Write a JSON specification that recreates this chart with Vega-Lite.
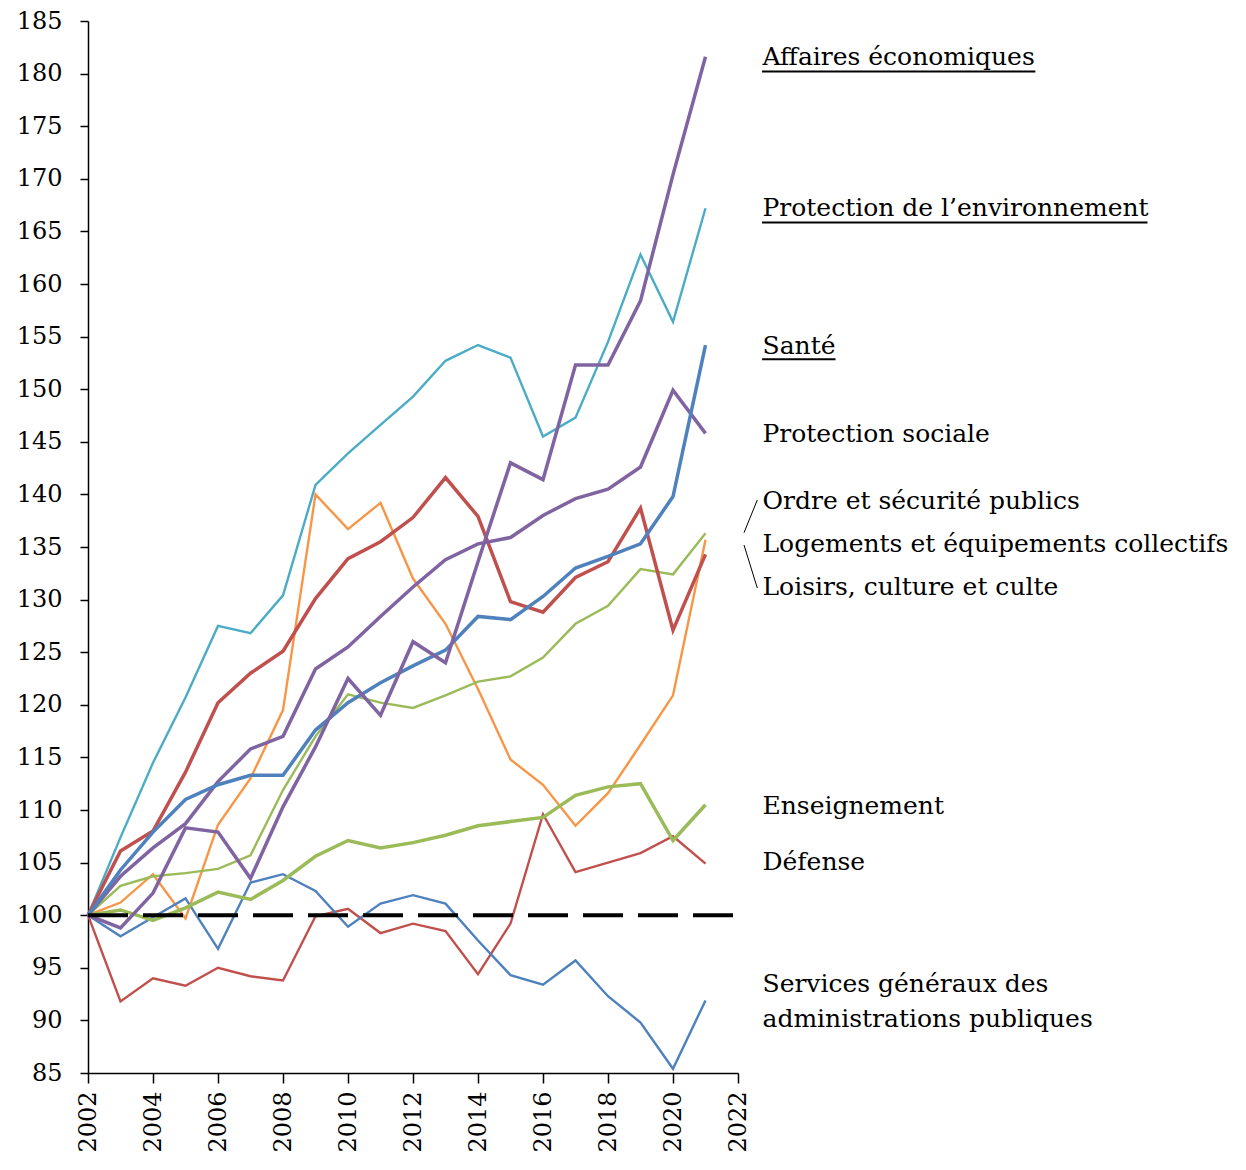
{
  "$schema": "https://vega.github.io/schema/vega-lite/v6.json",
  "width": 650,
  "height": 1052,
  "autosize": {"type": "none"},
  "padding": {"left": 88, "top": 21, "right": 508, "bottom": 97},
  "background": "white",
  "config": {
    "view": {"stroke": null},
    "font": "DejaVu Serif",
    "axis": {"labelFont": "DejaVu Serif", "labelFontSize": 24, "labelColor": "black", "domainColor": "black", "domainWidth": 1.5, "tickColor": "black", "tickWidth": 1.5, "grid": false, "title": null}
  },
  "datasets": {
    "wide": [
      {"year": 2002, "aff": 100, "env": 100, "sante": 100, "soc": 100, "ordre": 100, "log": 100, "loisirs": 100, "ens": 100, "def": 100, "serv": 100},
      {"year": 2003, "aff": 98.8, "env": 107.4, "sante": 104.3, "soc": 103.7, "ordre": 102.8, "log": 101.2, "loisirs": 106.1, "ens": 100.5, "def": 91.8, "serv": 98},
      {"year": 2004, "aff": 102.1, "env": 114.5, "sante": 107.9, "soc": 106.4, "ordre": 103.7, "log": 103.9, "loisirs": 108, "ens": 99.5, "def": 94, "serv": 99.8},
      {"year": 2005, "aff": 108.3, "env": 120.7, "sante": 111, "soc": 108.7, "ordre": 104, "log": 99.7, "loisirs": 113.6, "ens": 100.7, "def": 93.3, "serv": 101.6},
      {"year": 2006, "aff": 107.9, "env": 127.5, "sante": 112.4, "soc": 112.7, "ordre": 104.4, "log": 108.6, "loisirs": 120.2, "ens": 102.2, "def": 95, "serv": 96.8},
      {"year": 2007, "aff": 103.5, "env": 126.8, "sante": 113.3, "soc": 115.8, "ordre": 105.7, "log": 113, "loisirs": 123, "ens": 101.5, "def": 94.2, "serv": 103.1},
      {"year": 2008, "aff": 110.3, "env": 130.4, "sante": 113.3, "soc": 117, "ordre": 111.9, "log": 119.5, "loisirs": 125.1, "ens": 103.3, "def": 93.8, "serv": 103.9},
      {"year": 2009, "aff": 116, "env": 140.9, "sante": 117.6, "soc": 123.4, "ordre": 117, "log": 140, "loisirs": 130.1, "ens": 105.6, "def": 99.9, "serv": 102.3},
      {"year": 2010, "aff": 122.5, "env": 143.9, "sante": 120.2, "soc": 125.5, "ordre": 121, "log": 136.7, "loisirs": 133.9, "ens": 107.1, "def": 100.6, "serv": 98.9},
      {"year": 2011, "aff": 119, "env": 146.6, "sante": 122.1, "soc": 128.4, "ordre": 120.2, "log": 139.2, "loisirs": 135.5, "ens": 106.4, "def": 98.3, "serv": 101.1},
      {"year": 2012, "aff": 126, "env": 149.3, "sante": 123.7, "soc": 131.2, "ordre": 119.7, "log": 132, "loisirs": 137.8, "ens": 106.9, "def": 99.2, "serv": 101.9},
      {"year": 2013, "aff": 124, "env": 152.7, "sante": 125.2, "soc": 133.8, "ordre": 120.9, "log": 127.7, "loisirs": 141.6, "ens": 107.6, "def": 98.5, "serv": 101.1},
      {"year": 2014, "aff": 133.6, "env": 154.2, "sante": 128.4, "soc": 135.3, "ordre": 122.2, "log": 121.5, "loisirs": 137.9, "ens": 108.5, "def": 94.4, "serv": 97.6},
      {"year": 2015, "aff": 143, "env": 153, "sante": 128.1, "soc": 135.9, "ordre": 122.7, "log": 114.8, "loisirs": 129.8, "ens": 108.9, "def": 99.2, "serv": 94.3},
      {"year": 2016, "aff": 141.4, "env": 145.5, "sante": 130.3, "soc": 138, "ordre": 124.5, "log": 112.4, "loisirs": 128.8, "ens": 109.3, "def": 109.6, "serv": 93.4},
      {"year": 2017, "aff": 152.3, "env": 147.3, "sante": 133, "soc": 139.6, "ordre": 127.7, "log": 108.5, "loisirs": 132.1, "ens": 111.4, "def": 104.1, "serv": 95.7},
      {"year": 2018, "aff": 152.3, "env": 154.5, "sante": 134.1, "soc": 140.5, "ordre": 129.4, "log": 111.6, "loisirs": 133.6, "ens": 112.2, "def": 105, "serv": 92.3},
      {"year": 2019, "aff": 158.4, "env": 162.8, "sante": 135.3, "soc": 142.6, "ordre": 132.9, "log": 116.2, "loisirs": 138.7, "ens": 112.5, "def": 105.9, "serv": 89.8},
      {"year": 2020, "aff": 170.4, "env": 156.4, "sante": 139.8, "soc": 149.9, "ordre": 132.4, "log": 120.9, "loisirs": 127.1, "ens": 107.1, "def": 107.5, "serv": 85.4},
      {"year": 2021, "aff": 181.6, "env": 167.2, "sante": 154.2, "soc": 145.8, "ordre": 136.3, "log": 135.7, "loisirs": 134.3, "ens": 110.5, "def": 104.9, "serv": 91.9}
    ],
    "labels": [
      {"label": "Affaires économiques", "pos": 181.6},
      {"label": "Protection de l’environnement", "pos": 167.2},
      {"label": "Santé", "pos": 154.1},
      {"label": "Protection sociale", "pos": 145.7},
      {"label": "Ordre et sécurité publics", "pos": 139.4},
      {"label": "Logements et équipements collectifs", "pos": 135.3},
      {"label": "Loisirs, culture et culte", "pos": 131.2},
      {"label": "Enseignement", "pos": 110.4},
      {"label": "Défense", "pos": 105.1},
      {"label": ["Services généraux des", "administrations publiques"], "pos": 93.45}
    ]
  },
  "layer": [
    {
      "data": {"name": "wide"},
      "transform": [
        {"fold": ["env", "log", "ordre", "def", "serv"], "as": ["series", "value"]}
      ],
      "mark": {"type": "line", "strokeWidth": 2.4, "strokeJoin": "miter", "clip": false},
      "encoding": {
        "x": {"field": "year", "type": "quantitative", "scale": {"domain": [2002, 2022], "nice": false, "zero": false},
          "axis": {"values": [2002, 2004, 2006, 2008, 2010, 2012, 2014, 2016, 2018, 2020, 2022], "format": "d", "labelAngle": -90, "tickSize": 10, "labelPadding": 8, "labelFontSize": 24}},
        "y": {"field": "value", "type": "quantitative", "scale": {"domain": [85, 185], "nice": false, "zero": false},
          "axis": {"values": [85, 90, 95, 100, 105, 110, 115, 120, 125, 130, 135, 140, 145, 150, 155, 160, 165, 170, 175, 180, 185], "tickSize": 8, "labelPadding": 18, "labelFontSize": 24}},
        "color": {"field": "series", "type": "nominal", "legend": null,
          "scale": {"domain": ["aff", "env", "sante", "soc", "ordre", "log", "loisirs", "ens", "def", "serv"],
                    "range": ["#8064A2", "#4BACC6", "#4F81BD", "#8064A2", "#9BBB59", "#F79646", "#C0504D", "#9BBB59", "#C0504D", "#4F81BD"]}},
        "detail": {"field": "series"}
      }
    },
    {
      "data": {"name": "wide"},
      "transform": [
        {"fold": ["ens", "loisirs", "soc", "sante", "aff"], "as": ["series", "value"]}
      ],
      "mark": {"type": "line", "strokeWidth": 3.5, "strokeJoin": "miter", "clip": false},
      "encoding": {
        "x": {"field": "year", "type": "quantitative"},
        "y": {"field": "value", "type": "quantitative"},
        "color": {"field": "series", "type": "nominal", "legend": null},
        "detail": {"field": "series"}
      }
    },
    {
      "data": {"values": [{}]},
      "mark": {"type": "rule", "color": "black", "strokeWidth": 4, "strokeDash": [40, 15]},
      "encoding": {"x": {"datum": 2002}, "x2": {"datum": 2022}, "y": {"datum": 100}}
    },
    {
      "data": {"name": "labels"},
      "mark": {"type": "text", "align": "left", "baseline": "middle", "font": "DejaVu Serif", "fontSize": 25, "dx": 57, "lineHeight": 35, "color": "black", "clip": false},
      "encoding": {
        "x": {"datum": 2021},
        "y": {"field": "pos", "type": "quantitative"},
        "text": {"field": "label"}
      }
    },
    {
      "data": {"values": [{}]},
      "mark": {"type": "rule", "color": "black", "strokeWidth": 2},
      "encoding": {"x": {"datum": 2022.74}, "x2": {"datum": 2031.15}, "y": {"datum": 180.2}}
    },
    {
      "data": {"values": [{}]},
      "mark": {"type": "rule", "color": "black", "strokeWidth": 2},
      "encoding": {"x": {"datum": 2022.74}, "x2": {"datum": 2034.6}, "y": {"datum": 165.85}}
    },
    {
      "data": {"values": [{}]},
      "mark": {"type": "rule", "color": "black", "strokeWidth": 2},
      "encoding": {"x": {"datum": 2022.74}, "x2": {"datum": 2025.0}, "y": {"datum": 152.85}}
    },
    {
      "data": {"values": [{}]},
      "mark": {"type": "rule", "color": "black", "strokeWidth": 1},
      "encoding": {"x": {"datum": 2022.185}, "x2": {"datum": 2022.594}, "y": {"datum": 136.36}, "y2": {"datum": 139.47}}
    },
    {
      "data": {"values": [{}]},
      "mark": {"type": "rule", "color": "black", "strokeWidth": 1},
      "encoding": {"x": {"datum": 2022.185}, "x2": {"datum": 2022.594}, "y": {"datum": 135.19}, "y2": {"datum": 131.1}}
    }
  ]
}
